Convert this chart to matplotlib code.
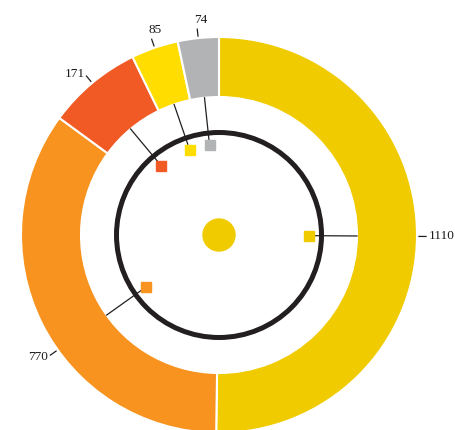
import numpy as np
import matplotlib
matplotlib.use('Agg')
import matplotlib.pyplot as plt
from matplotlib.patches import Circle, Rectangle

# data, clockwise from the top
values = [1110, 770, 171, 85, 74]
labels = ['1110', '770', '171', '85', '74']
colors = ['#F0CB00', '#F7931E', '#F15A24', '#FFDD00', '#B1B3B5']
# small layout nudges of the annotation angle (degrees)
angle_shift = [0, -9, 0, 0, 0]

R_OUT, R_IN = 198, 138   # donut radii (pixels)
R_RING = 102.5           # black ring
R_SQ = 90                # little squares
SQ = 10

fig = plt.figure(figsize=(4.55, 4.30), dpi=100)
ax = fig.add_axes([0, 0, 1, 1])

wedges, _ = ax.pie(values, radius=R_OUT, startangle=90, counterclock=False,
                   colors=colors, center=(0, 0), frame=True,
                   wedgeprops=dict(width=R_OUT - R_IN, edgecolor='white', linewidth=1.5))
ax.set_xlim(-219, 236)
ax.set_ylim(-195, 235)
ax.set_aspect('equal')
ax.axis('off')

ax.add_patch(Circle((0, 0), R_RING, fill=False, edgecolor='#231F20', linewidth=3.6, zorder=3))
ax.add_patch(Circle((0, 0), 16, color='#F0CB00', zorder=3))

for w, lab, col, shift in zip(wedges, labels, colors, angle_shift):
    ang = np.deg2rad((w.theta1 + w.theta2) / 2 - shift)
    c, s = np.cos(ang), np.sin(ang)
    # square inside the ring
    sx, sy = R_SQ * c, R_SQ * s
    ax.add_patch(Rectangle((sx - SQ / 2, sy - SQ / 2), SQ, SQ, color=col, zorder=4))
    # leader from square to inner edge of donut
    r0 = R_SQ + SQ / 2 * 1.2
    ax.plot([r0 * c, R_IN * c], [r0 * s, R_IN * s], color='#231F20', lw=0.9, zorder=2)
    # tick outside and the value
    ax.plot([200 * c, 207 * c], [200 * s, 207 * s], color='#231F20', lw=0.9)
    tx, ty = 210 * c, 210 * s
    if abs(c) < 0.45:
        ha, va = 'center', 'bottom'
        tx += 4
    elif c > 0:
        ha, va = 'left', 'center'
    else:
        ha, va = 'right', 'center'
    ax.text(tx, ty, lab, ha=ha, va=va, fontsize=9.5, family='Liberation Serif',
            color='#1a1a1a')

fig.savefig('out.png', dpi=100)
